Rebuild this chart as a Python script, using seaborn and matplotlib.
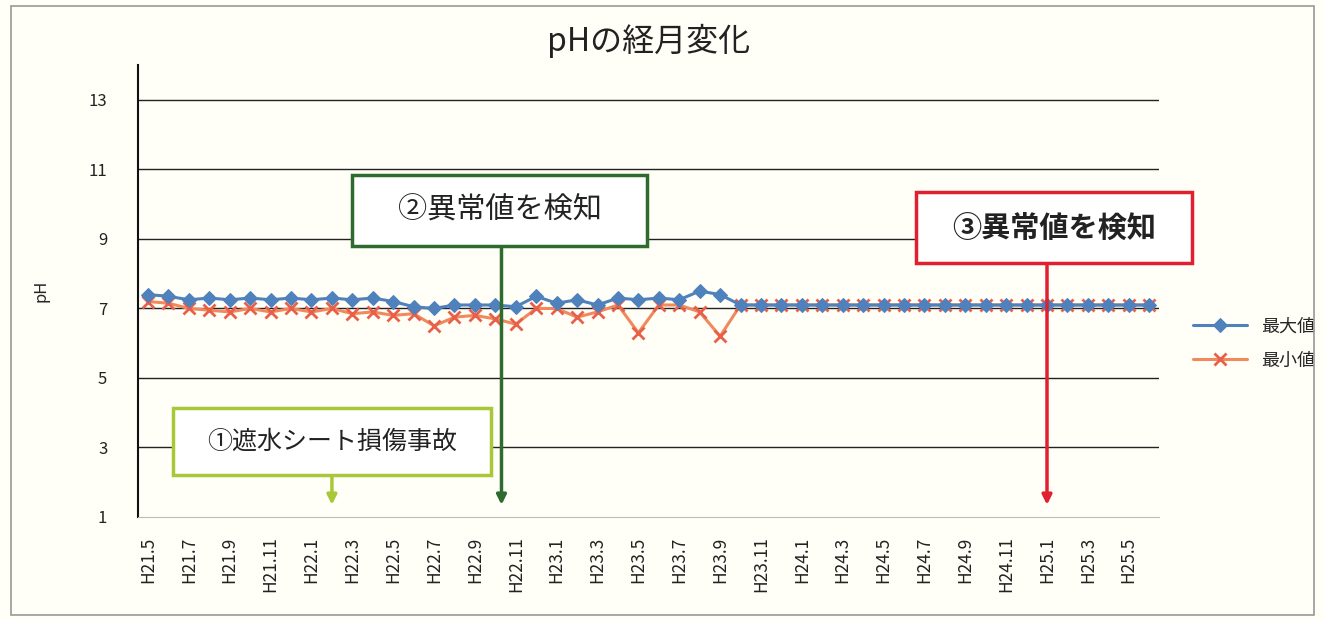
import matplotlib
matplotlib.use("Agg")
import matplotlib.pyplot as plt
import seaborn as sns
import pandas as pd

# monthly categories (Heisei year.month)
months = [
    "H21.5", "H21.6", "H21.7", "H21.8", "H21.9", "H21.10", "H21.11", "H21.12",
    "H22.1", "H22.2", "H22.3", "H22.4", "H22.5", "H22.6", "H22.7", "H22.8",
    "H22.9", "H22.10", "H22.11", "H22.12",
    "H23.1", "H23.2", "H23.3", "H23.4", "H23.5", "H23.6", "H23.7", "H23.8",
    "H23.9", "H23.10", "H23.11", "H23.12",
    "H24.1", "H24.2", "H24.3", "H24.4", "H24.5", "H24.6", "H24.7", "H24.8",
    "H24.9", "H24.10", "H24.11", "H24.12",
    "H25.1", "H25.2", "H25.3", "H25.4", "H25.5", "H25.6",
]

ph_max = [
    7.4, 7.35, 7.25, 7.3, 7.25, 7.3, 7.25, 7.3, 7.25, 7.3,
    7.25, 7.3, 7.2, 7.05, 7.0, 7.1, 7.1, 7.1, 7.05, 7.35,
    7.15, 7.25, 7.1, 7.3, 7.25, 7.3, 7.25, 7.5, 7.4, 7.1,
    7.1, 7.1, 7.1, 7.1, 7.1, 7.1, 7.1, 7.1, 7.1, 7.1,
    7.1, 7.1, 7.1, 7.1, 7.1, 7.1, 7.1, 7.1, 7.1, 7.1,
]

ph_min = [
    7.2, 7.15, 7.0, 6.95, 6.9, 7.0, 6.9, 7.0, 6.9, 7.0,
    6.85, 6.9, 6.8, 6.85, 6.5, 6.75, 6.8, 6.7, 6.55, 7.0,
    7.0, 6.75, 6.9, 7.1, 6.3, 7.1, 7.1, 6.9, 6.2, 7.1,
    7.1, 7.1, 7.1, 7.1, 7.1, 7.1, 7.1, 7.1, 7.1, 7.1,
    7.1, 7.1, 7.1, 7.1, 7.1, 7.1, 7.1, 7.1, 7.1, 7.1,
]

series_names = ["最大値", "最小値"]
y_ticks = [1, 3, 5, 7, 9, 11, 13]

sns.set_style("white")
plt.rcParams["font.family"] = ["Noto Sans CJK JP", "DejaVu Sans"]

bg = "#fffef7"
fig = plt.figure(figsize=(13.25, 6.21), dpi=100, facecolor=bg)
ax = fig.add_axes([0.104, 0.1675, 0.771, 0.7275])
ax.set_facecolor(bg)

idx = list(range(len(months)))
df = pd.DataFrame({"idx": idx, "max": ph_max, "min": ph_min})

for y in y_ticks[1:]:
    ax.axhline(y, color="#222222", lw=1.0, zorder=0)

sns.lineplot(data=df, x="idx", y="max", ax=ax, color="#4f81bd", lw=2.2,
             marker="D", markersize=7, markeredgecolor="#4f81bd",
             label=series_names[0], zorder=3)
sns.lineplot(data=df, x="idx", y="min", ax=ax, color="#f08a5d", lw=2.2,
             marker="x", markersize=9, markeredgewidth=2,
             markeredgecolor="#e8604a", label=series_names[1], zorder=2)

ax.set_xlim(-0.5, len(months) - 0.5)
ax.set_ylim(1, 14)
ax.set_yticks(y_ticks)
ax.set_yticklabels([str(v) for v in y_ticks], fontsize=12, color="#222222")
ax.set_xticks(idx[::2])
ax.set_xticklabels(months[::2], rotation=90, fontsize=12.5, color="#222222")
ax.tick_params(axis="y", length=0, pad=22)
ax.tick_params(axis="x", length=0, pad=14)
ax.set_xlabel("")
ax.set_ylabel("pH", fontsize=12, labelpad=28)

for s in ["top", "right"]:
    ax.spines[s].set_visible(False)
ax.spines["left"].set_color("#111111")
ax.spines["left"].set_linewidth(1.5)
ax.spines["bottom"].set_color("#bbbbbb")
ax.spines["bottom"].set_linewidth(0.8)

ax.set_title("pHの経月変化", fontsize=23, color="#222222", pad=10)

# annotation boxes (x0, x1, y0, y1 in data units) with arrows down to the axis
notes = [
    ("①遮水シート損傷事故", (1.2, 16.8, 2.2, 4.15), 9.0, "#a8c83a", 18, "normal"),
    ("②異常値を検知", (10.0, 24.4, 8.8, 10.85), 17.3, "#2e6b2e", 21, "normal"),
    ("③異常値を検知", (37.6, 51.1, 8.3, 10.35), 44.0, "#e02030", 21, "bold"),
]
for txt, (x0, x1, y0, y1), arrow_x, col, fs, fw in notes:
    ax.annotate("", xy=(arrow_x, 1.35), xytext=(arrow_x, y0),
                arrowprops=dict(arrowstyle="-|>", color=col, lw=2.5,
                                mutation_scale=14, shrinkA=0, shrinkB=0),
                zorder=4)
    ax.add_patch(plt.Rectangle((x0, y0), x1 - x0, y1 - y0, fc="white", ec=col,
                               lw=2.5, zorder=5, clip_on=False))
    ax.text((x0 + x1) / 2, (y0 + y1) / 2, txt, ha="center", va="center",
            fontsize=fs, fontweight=fw, color="#222222", zorder=6, clip_on=False)

ax.legend(loc="center left", bbox_to_anchor=(0.888, 0.447),
          bbox_transform=fig.transFigure, frameon=False, fontsize=13,
          handlelength=3, labelspacing=0.9)

# outer frame
fig.patches.append(plt.Rectangle((0.008, 0.01), 0.984, 0.98, transform=fig.transFigure,
                                 fill=False, ec="#999999", lw=1.2))

fig.savefig("out.png", dpi=100, facecolor=bg)
